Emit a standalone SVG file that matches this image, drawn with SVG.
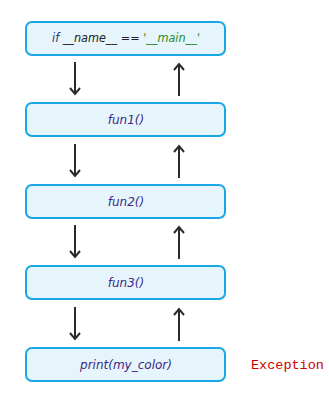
<svg xmlns="http://www.w3.org/2000/svg" width="329" height="400" viewBox="0 0 329 400">
<style>
.box{fill:#e6f5fc;stroke:#1aa7e6;stroke-width:2}
.t{font-family:"DejaVu Sans",sans-serif;font-style:italic;font-size:12px;text-anchor:middle;fill:#3a2a8a}
.arr{stroke:#2b2b2b;stroke-width:2;fill:none}
</style>
<rect width="329" height="400" fill="#ffffff"/>
<g id="main">
<rect class="box" x="26" y="22" width="199" height="33" rx="6"/>
<text class="t" x="126" y="42" textLength="148" lengthAdjust="spacingAndGlyphs"><tspan fill="#1e3a6e">if</tspan><tspan fill="#222"> __name__ == </tspan><tspan fill="#2a8a2a">'__main__'</tspan></text>
</g>
<g id="fun1">
<rect class="box" x="26" y="103" width="199" height="33" rx="6"/>
<text class="t" x="126" y="124">fun1()</text>
</g>
<g id="fun2">
<rect class="box" x="26" y="185" width="199" height="33" rx="6"/>
<text class="t" x="126" y="206">fun2()</text>
</g>
<g id="fun3">
<rect class="box" x="26" y="266" width="199" height="33" rx="6"/>
<text class="t" x="126" y="287">fun3()</text>
</g>
<g id="print">
<rect class="box" x="26" y="348" width="199" height="33" rx="6"/>
<text class="t" x="126" y="369">print(my_color)</text>
</g>
<g id="exception">
<text x="251" y="369" font-family="Liberation Mono, monospace" font-size="13.5" fill="#cc0000">Exception</text>
</g>
<g id="connectors">
<path class="arr" d="M75 62V94M70 88L75 94L80 88"/>
<path class="arr" d="M179 96V64M174 70L179 64L184 70"/>
<path class="arr" d="M75 144V176M70 170L75 176L80 170"/>
<path class="arr" d="M179 178V146M174 152L179 146L184 152"/>
<path class="arr" d="M75 225V257M70 251L75 257L80 251"/>
<path class="arr" d="M179 259V227M174 233L179 227L184 233"/>
<path class="arr" d="M75 307V339M70 333L75 339L80 333"/>
<path class="arr" d="M179 341V309M174 315L179 309L184 315"/>
</g>
</svg>
